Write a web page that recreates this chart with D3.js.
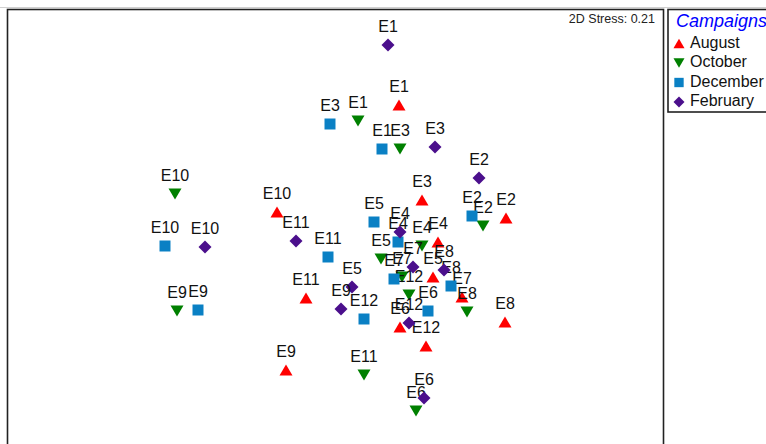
<!DOCTYPE html>
<html>
<head>
<meta charset="utf-8">
<script src="https://cdn.jsdelivr.net/npm/d3@7"></script>
<style>
  html, body { margin: 0; padding: 0; background: #fff; }
  svg { display: block; font-family: "Liberation Sans", Arial, sans-serif; }
</style>
</head>
<body>
<svg id="chart" width="766" height="444"></svg>
<script>
// NMDS ordination of sampling sites E1–E12 across four campaigns
const sites = ["E1", "E2", "E3", "E4", "E5", "E6", "E7", "E8", "E9", "E10", "E11", "E12"];
const campaigns = ["August", "October", "December", "February"];
const stressLabel = "2D Stress: 0.21";

const augustX = [0.635, 1.705, 0.865, 1.025, 0.975, 0.645, 1.265, 1.695, -0.495, -0.585, -0.295, 0.905];
const augustY = [1.21, 0.08, 0.26, -0.16, -0.51, -1.01, -0.71, -0.96, -1.44, 0.14, -0.72, -1.20];

const octoberX = [0.225, 1.475, 0.645, 0.865, 0.455, 0.805, 0.665, 1.315, -1.585, -1.605, 0.285, 0.735];
const octoberY = [1.05, 0.00, 0.77, -0.20, -0.33, -1.85, -0.51, -0.86, -0.85, 0.32, -1.49, -0.69];

const decemberX = [0.465, 1.365, -0.055, 0.625, 0.385, 0.925, 0.585, 1.155, -1.375, -1.705, -0.075, 0.285];
const decemberY = [0.77, 0.10, 1.02, -0.16, 0.04, -0.85, -0.53, -0.60, -0.84, -0.20, -0.31, -0.93];

const februaryX = [0.525, 1.435, 0.995, 0.645, 0.165, 0.885, 0.775, 1.085, 0.055, -1.305, -0.395, 0.735];
const februaryY = [1.81, 0.48, 0.79, -0.06, -0.61, -1.72, -0.41, -0.44, -0.83, -0.21, -0.15, -0.97];

const seriesX = [augustX, octoberX, decemberX, februaryX];
const seriesY = [augustY, octoberY, decemberY, februaryY];

// Marker styling per campaign
const colors = ["#ff0000", "#008000", "#0a80c4", "#4b0f8c"];
const shapeNames = ["up", "down", "square", "diamond"];

function shapePath(kind, s) {
  // s = scale factor (1 for plot markers)
  const w = 6.5 * s, h = 5.5 * s, q = 5.5 * s, d = 6.5 * s;
  switch (kind) {
    case "up": return `M0,${-h}L${w},${h}L${-w},${h}Z`;
    case "down": return `M0,${h}L${w},${-h}L${-w},${-h}Z`;
    case "square": return `M${-q},${-q}H${q}V${q}H${-q}Z`;
    case "diamond": return `M0,${-d}L${d},0L0,${d}L${-d},0Z`;
  }
}

const svg = d3.select("#chart");

// Plot frame
const frame = { left: 7.5, top: 9.5, right: 663.5, bottom: 460 };

const x = d3.scaleLinear().domain([-3.28, 3.28]).range([frame.left, frame.left + 656]);
const y = d3.scaleLinear().domain([-2.2, 2.2]).range([446, 6]);

svg.append("line")
  .attr("x1", 0).attr("x2", 766).attr("y1", 7.5).attr("y2", 7.5)
  .attr("stroke", "#d0d0d0").attr("stroke-width", 1);

svg.append("rect")
  .attr("x", frame.left).attr("y", frame.top)
  .attr("width", frame.right - frame.left).attr("height", frame.bottom - frame.top)
  .attr("fill", "none").attr("stroke", "#222").attr("stroke-width", 1.6);

svg.append("text")
  .attr("x", 655).attr("y", 23)
  .attr("text-anchor", "end")
  .attr("font-size", 12.5)
  .attr("fill", "#222")
  .text(stressLabel);

// Points and site labels, one campaign at a time
campaigns.forEach((c, ci) => {
  const pts = sites.map((s, i) => ({ site: s, x: seriesX[ci][i], y: seriesY[ci][i] }));
  const g = svg.append("g").attr("class", "campaign-" + c);
  const grp = g.selectAll("g").data(pts).join("g")
    .attr("transform", d => `translate(${x(d.x)},${y(d.y)})`);
  grp.append("path")
    .attr("d", shapePath(shapeNames[ci], 1))
    .attr("fill", colors[ci]);
  grp.append("text")
    .attr("x", 0).attr("y", -13)
    .attr("text-anchor", "middle")
    .attr("font-size", 16)
    .attr("fill", "#111")
    .text(d => d.site);
});

// Legend
const legend = svg.append("g");
legend.append("rect")
  .attr("x", 668).attr("y", 9.5).attr("width", 110).attr("height", 102.5)
  .attr("fill", "#fff").attr("stroke", "#222").attr("stroke-width", 1.6);
legend.append("text")
  .attr("x", 676).attr("y", 27)
  .attr("font-size", 18).attr("font-style", "italic")
  .attr("fill", "#0000ff")
  .text("Campaigns");
campaigns.forEach((c, ci) => {
  const cy = 42 + ci * 19.5;
  legend.append("path")
    .attr("transform", `translate(679,${cy + 1.5})`)
    .attr("d", shapePath(shapeNames[ci], 0.85))
    .attr("fill", colors[ci]);
  legend.append("text")
    .attr("x", 690).attr("y", cy + 5.5)
    .attr("font-size", 16)
    .attr("fill", "#111")
    .text(c);
});
</script>
</body>
</html>
